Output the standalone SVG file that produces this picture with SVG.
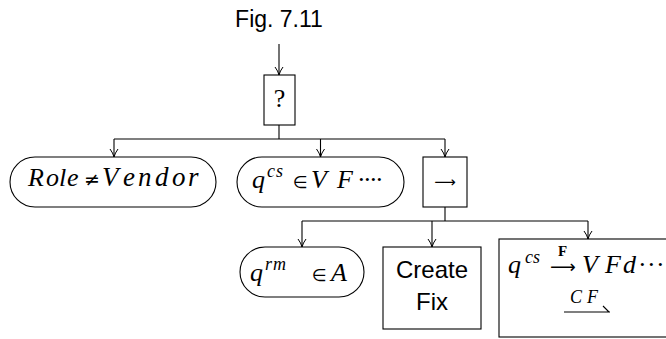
<svg xmlns="http://www.w3.org/2000/svg" width="666" height="339" viewBox="0 0 666 339">
<defs>
<marker id="arr" viewBox="0 0 10 10" refX="9" refY="5" markerWidth="10" markerHeight="10" markerUnits="userSpaceOnUse" orient="auto">
<path d="M1 1 Q5 4 9 5 Q5 6 1 9" fill="none" stroke="#000" stroke-width="1"/>
</marker>
</defs>
<style>
.box{fill:#fff;stroke:#000;stroke-width:1.1}
.m{font-family:"Liberation Serif",serif;font-size:26px;fill:#000}
.i{font-style:italic}
.s{font-size:18px}
.op{font-family:"DejaVu Sans",sans-serif;fill:#000}
.sans{font-family:"Liberation Sans",Arial,sans-serif;font-size:24px;fill:#000}
.c{fill:none;stroke:#000;stroke-width:1.1}
</style>
<rect width="666" height="339" fill="#fff"/>
<text class="sans" x="279" y="26.5" text-anchor="middle" style="font-size:23px">Fig. 7.11</text>
<g id="connectors">
<path class="c" d="M279 44 V75" marker-end="url(#arr)"/>
<path class="c" d="M279 125 V139 M114 139 H445"/>
<path class="c" d="M114 139 V157" marker-end="url(#arr)"/>
<path class="c" d="M320.5 139 V157" marker-end="url(#arr)"/>
<path class="c" d="M445 139 V157" marker-end="url(#arr)"/>
<path class="c" d="M445 207 V221 M302 221 H588"/>
<path class="c" d="M302 221 V247" marker-end="url(#arr)"/>
<path class="c" d="M432 221 V247" marker-end="url(#arr)"/>
<path class="c" d="M588 221 V239" marker-end="url(#arr)"/>
</g>
<g id="sel">
<rect class="box" x="264" y="75" width="31" height="50"/>
<text class="m" x="279.5" y="107" text-anchor="middle">?</text>
</g>
<g id="role">
<rect class="box" x="10" y="157" width="206" height="50" rx="25" ry="25"/>
<text class="m i" x="28 46 59 67" y="186">Role</text>
<text class="op" x="84" y="186" style="font-size:19px">≠</text>
<text class="m i" x="102 123 138 155 172 188" y="186" style="font-size:27px">Vendor</text>
</g>
<g id="qcs">
<rect class="box" x="237" y="157" width="167" height="50" rx="25" ry="25"/>
<text class="m i" x="252" y="188">q</text>
<text class="m i s" x="267 276" y="177">cs</text>
<text class="op" x="293" y="188" style="font-size:17px">∈</text>
<text class="m i" x="311 337" y="188">VF</text>
<text class="m" x="357 363 369 375" y="188">····</text>
</g>
<g id="seq">
<rect class="box" x="423" y="157" width="44" height="50"/>
<text class="op" x="445" y="187" text-anchor="middle" style="font-size:15px">⟶</text>
</g>
<g id="qrm">
<rect class="box" x="240" y="247" width="124" height="50" rx="25" ry="25"/>
<text class="m i" x="250" y="281">q</text>
<text class="m i s" x="265 273" y="270">rm</text>
<text class="op" x="312" y="281" style="font-size:17px">∈</text>
<text class="m i" x="331" y="281">A</text>
</g>
<g id="createfix">
<rect class="box" x="383" y="247" width="98" height="82"/>
<text class="sans" x="432" y="278" text-anchor="middle">Create</text>
<text class="sans" x="432" y="310" text-anchor="middle">Fix</text>
</g>
<g id="qcsvf">
<rect class="box" x="499" y="239" width="200" height="98"/>
<text class="m i" x="508" y="273">q</text>
<text class="m i s" x="525 533" y="263">cs</text>
<text style="font-family:'Liberation Serif',serif;font-weight:bold;font-size:15px" x="558" y="256">F</text>
<text class="op" x="550" y="273" style="font-size:18px">⟶</text>
<text class="m i" x="582 605 623" y="273">VFd</text>
<text class="m" x="638 647 656" y="273">···</text>
<text class="m i s" x="570 587" y="303">CF</text>
<path class="c" d="M564 312 H610 M603 306 L609 312"/>
</g>
</svg>
